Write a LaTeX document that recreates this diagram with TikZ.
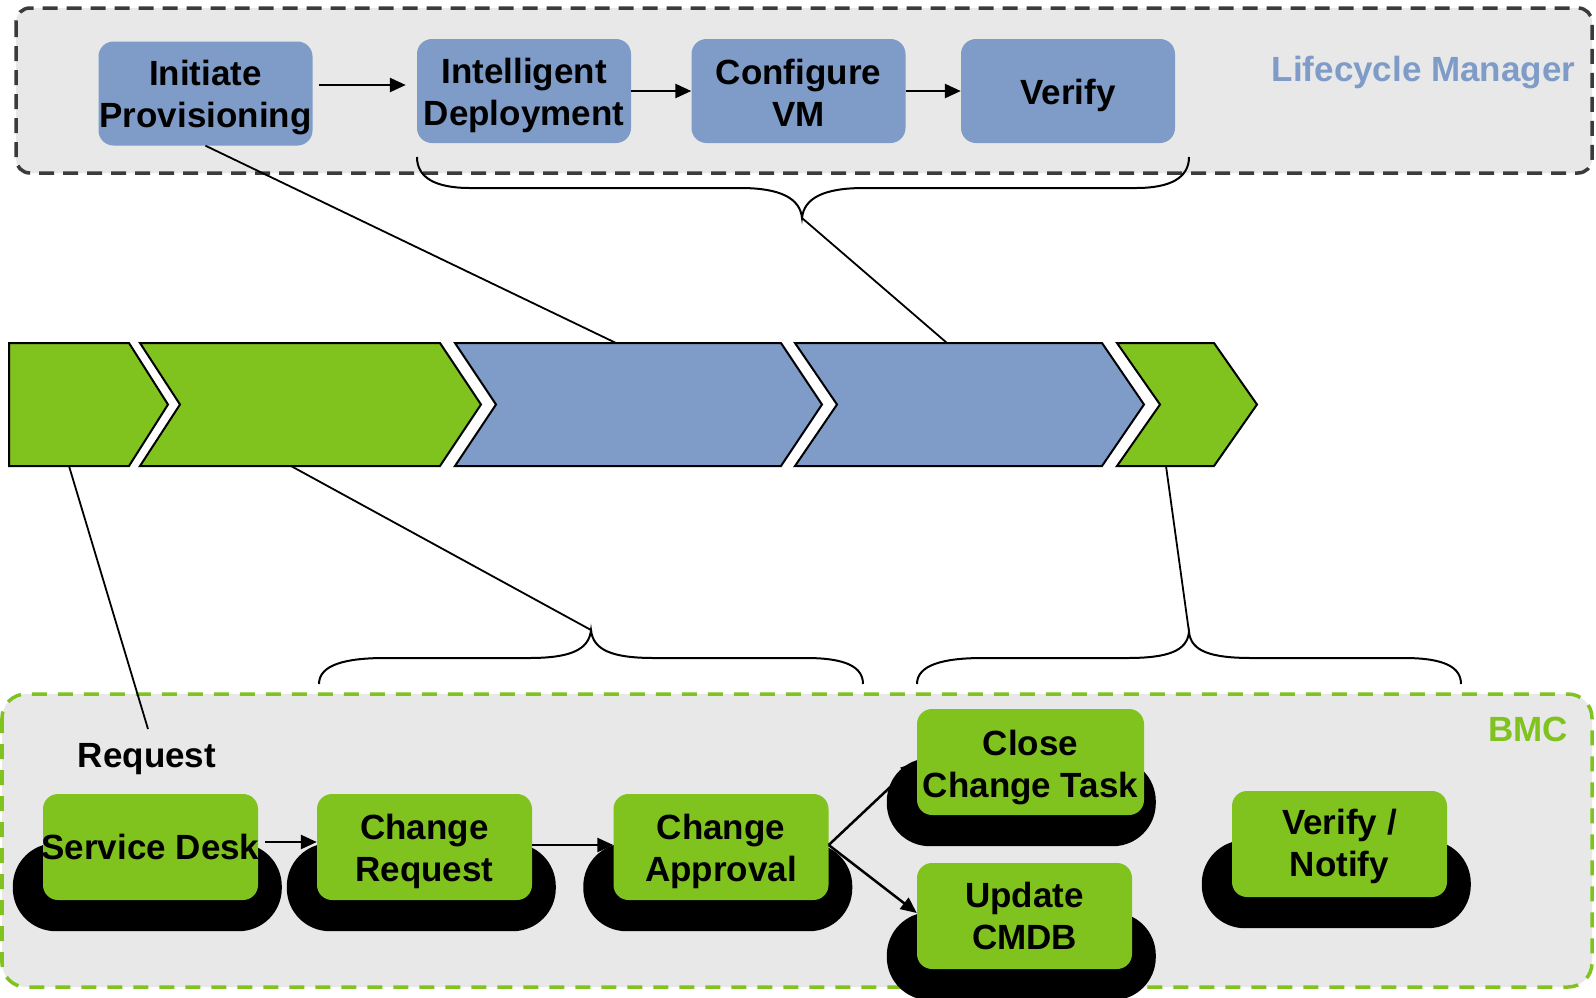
\documentclass[tikz,border=0pt]{standalone}
\usepackage{fontspec}
\setmainfont{Liberation Sans}
\usetikzlibrary{arrows.meta}
\definecolor{lmblue}{HTML}{7E9CC7}
\definecolor{bmcgreen}{HTML}{80C21E}
\definecolor{panelgray}{HTML}{E8E8E8}
\definecolor{dashgray}{HTML}{3B3B3B}
\pgfdeclarelayer{back}
\pgfdeclarelayer{mid}
\pgfsetlayers{back,mid,main}
\begin{document}
\begin{tikzpicture}[x=1pt,y=-1pt,
  txt/.style={font=\fontsize{35}{42}\selectfont\bfseries, align=center, inner sep=0pt},
  bluebox/.style={fill=lmblue, rounded corners=15pt, minimum width=214pt, minimum height=104pt, inner sep=0pt},
  greenbox/.style={fill=bmcgreen, rounded corners=15pt, minimum width=215pt, minimum height=106pt, inner sep=0pt},
  flowarr/.style={line width=2.5pt, -{Triangle[length=16pt,width=14pt]}},
  link/.style={line width=1.8pt},
  chev/.style={line width=2pt, draw=black, line join=miter},
  bracestyle/.style={line width=2pt},
  pill/.style={fill=black, rounded corners=43pt},
]
\useasboundingbox (0,0) rectangle (1596,997);

% containers
\begin{pgfonlayer}{back}
\draw[dashgray, fill=panelgray, line width=3.5pt, dash pattern=on 15pt off 9pt, rounded corners=14pt] (16,8) rectangle (1592,173);
\draw[bmcgreen, fill=panelgray, line width=3.5pt, dash pattern=on 15pt off 11pt, rounded corners=24pt] (2,694) rectangle (1592,987);
\end{pgfonlayer}

% top (Lifecycle Manager) boxes
\node[bluebox] (init)   at (205.5,93.5) {};
\node[bluebox] (intel)  at (524,91)   {};
\node[bluebox] (conf)   at (798.5,91) {};
\node[bluebox] (verify) at (1068,91)  {};
\node[txt] (initT)   at ([yshift=-4pt]init.center)   {Initiate\\Provisioning};
\node[txt] (intelT)  at ([yshift=-4pt]intel.center)  {Intelligent\\Deployment};
\node[txt] (confT)   at ([yshift=-2pt]conf.center)   {Configure\\VM};
\node[txt] (verifyT) at ([yshift=-4pt]verify.center) {Verify};
\node[txt, text=lmblue, anchor=base] (lcm) at (1423.5,81) {Lifecycle Manager};

\draw[flowarr] ([xshift=6pt,yshift=8.5pt]init.east) -- ([xshift=-11pt,yshift=6pt]intel.west);
\draw[flowarr] (intel.east) -- (conf.west);
\draw[flowarr] (conf.east) -- (verify.west);

% chevrons
\draw[chev, fill=bmcgreen] (9,343) -- (129,343) -- (168,404.5) -- (129,466) -- (9,466) -- cycle;
\draw[chev, fill=bmcgreen] (140,343) -- (440,343) -- (481,404.5) -- (440,466) -- (140,466) -- (180,404.5) -- cycle;
\draw[chev, fill=lmblue] (455,343) -- (781,343) -- (822,404.5) -- (781,466) -- (455,466) -- (496,404.5) -- cycle;
\draw[chev, fill=lmblue] (795,343) -- (1102,343) -- (1144,404.5) -- (1102,466) -- (795,466) -- (837,404.5) -- cycle;
\draw[chev, fill=bmcgreen] (1117,343) -- (1214,343) -- (1257,404.5) -- (1214,466) -- (1117,466) -- (1160,404.5) -- cycle;
\coordinate (ch1b) at (69,466);
\coordinate (ch2b) at (291,466);
\coordinate (ch3t) at (616,343);
\coordinate (ch4t) at (947,343);
\coordinate (ch5b) at (1166,466);

% braces
\draw[bracestyle] (417,157) .. controls (417,178) and (436,188) .. (470,188) -- (740,188)
  .. controls (780,188) and (800,198) .. (802,218)
  .. controls (804,198) and (824,188) .. (864,188) -- (1136,188)
  .. controls (1170,188) and (1189,178) .. (1189,157);
\coordinate (topTip) at (802,218);

\draw[bracestyle] (319,684) .. controls (319,665) and (345,658) .. (385,658) -- (529,658)
  .. controls (570,658) and (589,650) .. (591,630)
  .. controls (593,650) and (612,658) .. (654,658) -- (806,658)
  .. controls (846,658) and (863,667) .. (863,684);
\coordinate (lowTipA) at (591,630);

\draw[bracestyle] (917,684) .. controls (917,665) and (943,658) .. (983,658) -- (1127,658)
  .. controls (1168,658) and (1187,651) .. (1189,632)
  .. controls (1191,651) and (1210,658) .. (1252,658) -- (1404,658)
  .. controls (1444,658) and (1461,667) .. (1461,684);
\coordinate (lowTipB) at (1189,632);

\coordinate (reqEnd) at (148,729);

% connectors between layers
\draw[link] (init.south) -- (ch3t);
\draw[link] (topTip) -- (ch4t);
\draw[link] (ch1b) -- (reqEnd);
\draw[link] (ch2b) -- (lowTipA);
\draw[link] (ch5b) -- (lowTipB);

% BMC labels
\node[txt, text=bmcgreen, anchor=base] (bmc) at (1528,741) {BMC};
\node[txt, anchor=base] (req) at (147,767) {Request};

% BMC boxes
\node[greenbox] (sd)    at (150.5,847) {};
\node[greenbox] (cr)    at (424.5,847) {};
\node[greenbox] (ca)    at (721,847)   {};
\node[greenbox, minimum width=227pt] (cct) at (1030.5,762) {};
\node[greenbox] (ucmdb) at (1024.5,916) {};
\node[greenbox] (vn)    at (1339.5,844) {};
\node[txt] (sdT)    at (sd.center) {Service Desk};
\node[txt] (crT)    at ([yshift=-4pt]cr.center) {Change\\Request};
\node[txt] (caT)    at ([yshift=-4pt]ca.center) {Change\\Approval};
\node[txt] (cctT)   at ([yshift=-6pt]cct.center) {Close\\Change Task};
\node[txt] (ucmdbT) at (ucmdb.center) {Update\\CMDB};
\node[txt] (vnT)    at ([yshift=-2pt]vn.center) {Verify /\\Notify};

\begin{pgfonlayer}{mid}
\foreach \n in {sd,cr,ca,cct,ucmdb,vn}
  \fill[pill] ([xshift=-30pt,yshift=-31pt]\n.south west) rectangle ([xshift=239pt,yshift=57pt]\n.south west);
\end{pgfonlayer}

\draw[flowarr] ([xshift=7pt,yshift=5pt]sd.east) -- ([yshift=5pt]cr.west);
\draw[flowarr] ([yshift=2pt]cr.east) -- ([yshift=2pt]ca.west);
\draw[flowarr] ([yshift=2pt]ca.east) -- (cct.west);
\draw[flowarr] ([yshift=2pt]ca.east) -- ([yshift=3pt]ucmdb.west);
\end{tikzpicture}
\end{document}
